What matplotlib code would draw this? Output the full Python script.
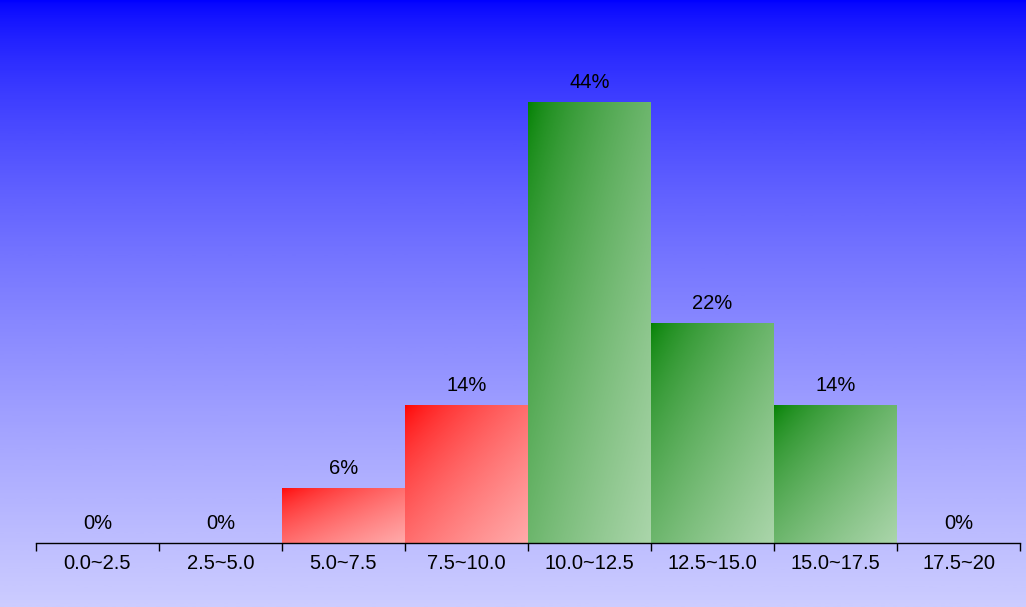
import numpy as np
import matplotlib
matplotlib.use("Agg")
import matplotlib.pyplot as plt
from matplotlib.colors import LinearSegmentedColormap

plt.rcParams['font.family'] = ['Liberation Sans', 'DejaVu Sans']

# data: counts per bin (36 samples), shown as rounded percentages
bins = ['0.0~2.5', '2.5~5.0', '5.0~7.5', '7.5~10.0', '10.0~12.5', '12.5~15.0', '15.0~17.5', '17.5~20']
counts = [0, 0, 2, 5, 16, 8, 5, 0]
bar_colors = ['red', 'red', 'red', 'red', 'green', 'green', 'green', 'green']

percent = [100 * c / sum(counts) for c in counts]

start_rgb = {'red': (1.0, 0.0, 0.0), 'green': (0.0, 0.5, 0.0)}
end_rgb = {'red': (1.0, 0.667, 0.667), 'green': (0.667, 0.835, 0.667)}

fig = plt.figure(figsize=(10.26, 6.07), dpi=100)

# background gradient, blue on top fading to lavender
bg = fig.add_axes([0, 0, 1, 1], zorder=-10)
bg_cmap = LinearSegmentedColormap.from_list('bg', [(0, 0, 1), (0.8, 0.8, 1)])
bg.imshow((np.linspace(0, 1, 400) ** 0.65).reshape(-1, 1), aspect='auto', cmap=bg_cmap,
          vmin=0, vmax=1, extent=(0, 1, 0, 1), origin='upper')
bg.axis('off')

ax = fig.add_axes([36 / 1026, 64 / 607, 984 / 1026, 543 / 607])
ax.patch.set_alpha(0)

x = np.arange(len(bins))
bars = ax.bar(x, percent, width=1.0, align='edge')

# diagonal gradient inside each bar (top-left dark -> bottom-right light)
u = np.linspace(0, 1, 150)
uu, vv = np.meshgrid(u, u)
t = ((uu + vv) / 2) ** 0.65
for rect, h, c in zip(bars, percent, bar_colors):
    rect.set_facecolor('none')
    rect.set_edgecolor('none')
    if h == 0:
        continue
    cmap = LinearSegmentedColormap.from_list(c, [start_rgb[c], end_rgb[c]])
    x0 = rect.get_x()
    im = ax.imshow(t, cmap=cmap, vmin=0, vmax=1, origin='upper', aspect='auto',
                   extent=(x0, x0 + rect.get_width(), 0, h), zorder=2)
    im.set_clip_path(rect)

for xi, h in zip(x, percent):
    ax.annotate(f'{round(h)}%', (xi + 0.5, h), xytext=(0, 14), textcoords='offset points',
                ha='center', va='center', fontsize=14.5, color='black')

ax.set_xlim(0, len(bins))
ax.set_ylim(0, 543 / 9.92)

ax.set_xticks(np.arange(len(bins) + 1))
ax.set_xticklabels([])
ax.set_xticks(x + 0.5, minor=True)
ax.set_xticklabels(bins, minor=True, fontsize=14.5)
ax.tick_params(axis='x', which='major', length=5.5, width=1, color='black', direction='out')
ax.tick_params(axis='x', which='minor', length=0, pad=8)
ax.set_yticks([])
for s in ['left', 'top', 'right']:
    ax.spines[s].set_visible(False)
ax.spines['bottom'].set_color('black')
ax.spines['bottom'].set_linewidth(1)

fig.savefig('out.png', dpi=100)
